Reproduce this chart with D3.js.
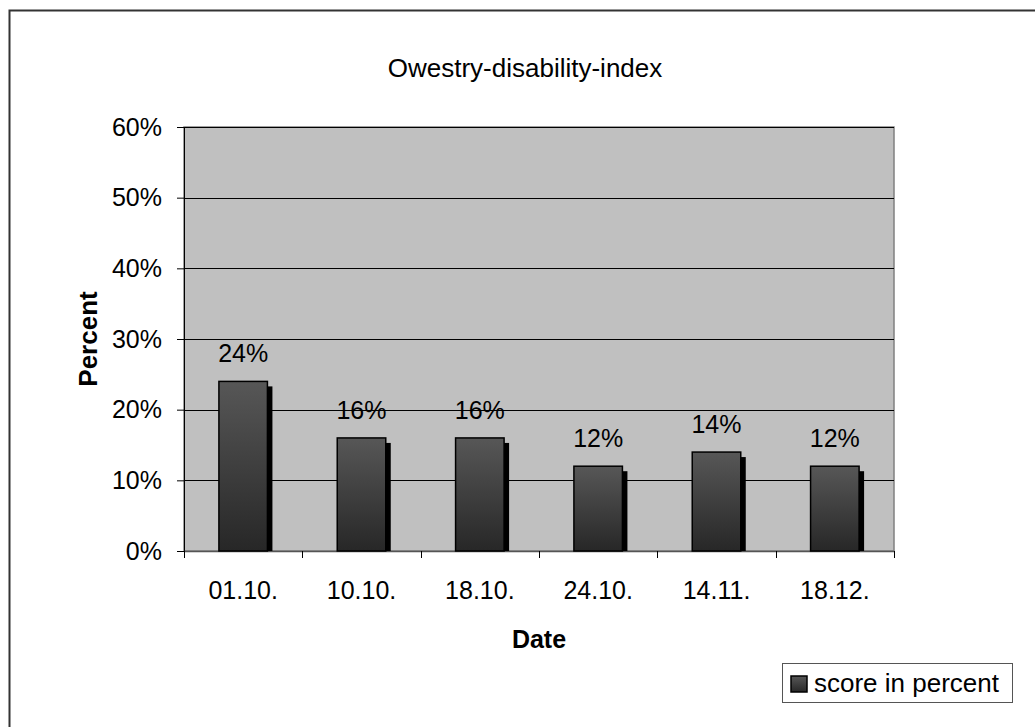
<!DOCTYPE html>
<html>
<head>
<meta charset="utf-8">
<script src="https://cdn.jsdelivr.net/npm/d3@7"></script>
<style>
  html, body { margin: 0; padding: 0; background: #fff; }
  svg { display: block; font-family: "Liberation Sans", Arial, sans-serif; }
</style>
</head>
<body>
<svg id="chart" width="1035" height="727"></svg>
<script>
// Oswestry disability index scores per visit date
const dates = ["01.10.", "10.10.", "18.10.", "24.10.", "14.11.", "18.12."];
const scores = [24, 16, 16, 12, 14, 12];
const yTicks = [0, 10, 20, 30, 40, 50, 60];

const FONT = "'Liberation Sans', Arial, sans-serif";
const svg = d3.select("#chart");
const plot = { left: 184, right: 894, top: 127, bottom: 551 };

// outer chart frame (runs past the right and bottom edges)
svg.append("rect")
  .attr("x", 9.5).attr("y", 10.5)
  .attr("width", 1040).attr("height", 740)
  .attr("fill", "#fff").attr("stroke", "#333").attr("stroke-width", 2);

const defs = svg.append("defs");
const grad = defs.append("linearGradient")
  .attr("id", "barFill").attr("x1", 0).attr("y1", 0).attr("x2", 0).attr("y2", 1);
grad.append("stop").attr("offset", "0%").attr("stop-color", "#575757");
grad.append("stop").attr("offset", "100%").attr("stop-color", "#272727");

const x = d3.scaleBand().domain(dates).range([plot.left, plot.right]).paddingInner(0).paddingOuter(0);
const y = d3.scaleLinear().domain([0, 60]).range([plot.bottom, plot.top]);

// plot area
svg.append("rect")
  .attr("x", plot.left).attr("y", plot.top)
  .attr("width", plot.right - plot.left).attr("height", plot.bottom - plot.top)
  .attr("fill", "#c0c0c0").attr("stroke", "#808080").attr("stroke-width", 1.5);

// horizontal gridlines
svg.append("g").selectAll("line").data(yTicks.filter(t => t > 0)).join("line")
  .attr("x1", plot.left).attr("x2", plot.right)
  .attr("y1", d => Math.round(y(d)) + 0.5).attr("y2", d => Math.round(y(d)) + 0.5)
  .attr("stroke", "#000").attr("stroke-width", 1);

// y axis
const yAxis = d3.axisLeft(y).tickValues(yTicks).tickFormat(d => d + "%").tickSize(7).tickPadding(15);
const gy = svg.append("g").attr("transform", `translate(${plot.left},0)`).call(yAxis);
gy.select(".domain").attr("stroke", "#000");
gy.selectAll(".tick line").attr("stroke", "#000");
gy.selectAll(".tick text").attr("font-size", 25).attr("fill", "#000").attr("font-family", FONT);

// x axis
const gx = svg.append("g").attr("transform", `translate(0,${plot.bottom})`)
  .call(d3.axisBottom(x).tickSize(0).tickPadding(30));
gx.select(".domain").attr("stroke", "#555").attr("stroke-width", 1.5);
gx.selectAll(".tick text").attr("font-size", 25).attr("fill", "#000").attr("font-family", FONT);
// category boundary ticks
const bounds = dates.map(d => x(d)).concat([x(dates[dates.length - 1]) + x.bandwidth()]);
svg.append("g").selectAll("line").data(bounds).join("line")
  .attr("x1", d => Math.round(d) + 0.5).attr("x2", d => Math.round(d) + 0.5)
  .attr("y1", plot.bottom).attr("y2", plot.bottom + 7)
  .attr("stroke", "#000");

// bars with drop shadow
const barW = x.bandwidth() * 0.41;
const bars = svg.append("g");
const bx = d => x(d) + (x.bandwidth() - barW) / 2;
bars.selectAll("rect.shadow").data(scores).join("rect")
  .attr("class", "shadow")
  .attr("x", (d, i) => bx(dates[i]) + 5)
  .attr("y", d => y(d) + 5)
  .attr("width", barW)
  .attr("height", d => plot.bottom - y(d) - 5)
  .attr("fill", "#000");
bars.selectAll("rect.bar").data(scores).join("rect")
  .attr("class", "bar")
  .attr("x", (d, i) => bx(dates[i]))
  .attr("y", d => y(d))
  .attr("width", barW)
  .attr("height", d => plot.bottom - y(d))
  .attr("fill", "url(#barFill)")
  .attr("stroke", "#000").attr("stroke-width", 1.5);

// value labels
svg.append("g").selectAll("text").data(scores).join("text")
  .attr("x", (d, i) => x(dates[i]) + x.bandwidth() / 2)
  .attr("y", d => y(d) - 19)
  .attr("text-anchor", "middle")
  .attr("font-size", 25)
  .text(d => d + "%");

// title and axis titles
svg.append("text").attr("x", 525).attr("y", 77).attr("text-anchor", "middle")
  .attr("font-size", 26).text("Owestry-disability-index");
svg.append("text").attr("x", 539).attr("y", 648).attr("text-anchor", "middle")
  .attr("font-size", 25).attr("font-weight", "bold").text("Date");
svg.append("text").attr("transform", `translate(97,${(plot.top + plot.bottom) / 2}) rotate(-90)`)
  .attr("text-anchor", "middle").attr("font-size", 26).attr("font-weight", "bold").text("Percent");

// legend
const lg = svg.append("g");
lg.append("rect").attr("x", 782.5).attr("y", 663.5).attr("width", 230).attr("height", 39)
  .attr("fill", "#fff").attr("stroke", "#555").attr("stroke-width", 1);
lg.append("rect").attr("x", 791).attr("y", 676).attr("width", 16).attr("height", 16)
  .attr("fill", "url(#barFill)").attr("stroke", "#000").attr("stroke-width", 1.5);
lg.append("text").attr("x", 814).attr("y", 692).attr("font-size", 26).text("score in percent");
</script>
</body>
</html>
